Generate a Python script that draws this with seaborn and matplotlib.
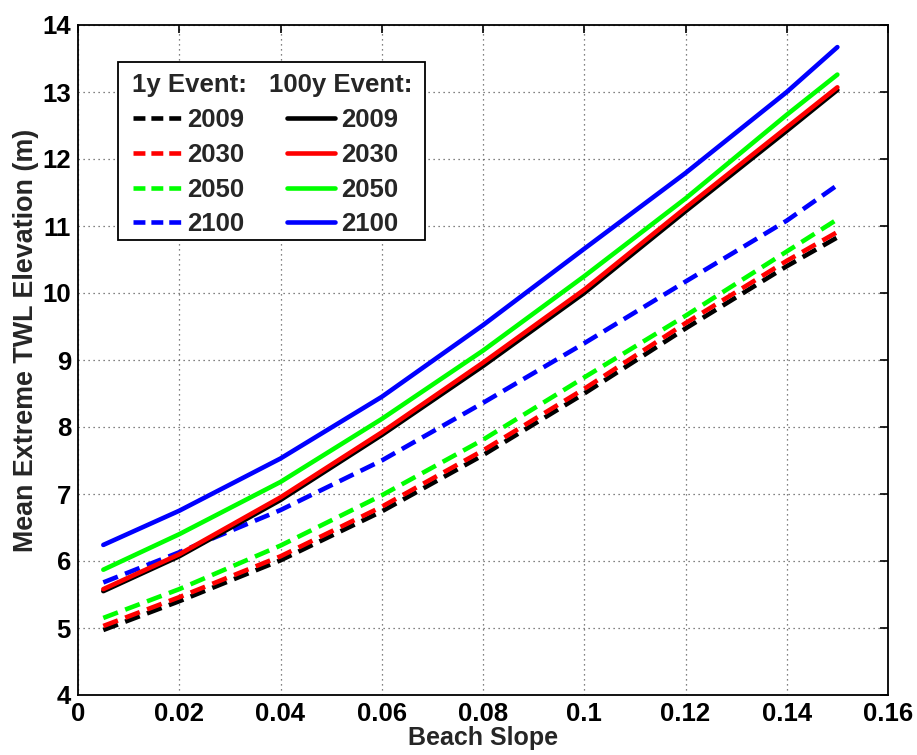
import numpy as np
import pandas as pd
import matplotlib
matplotlib.use("Agg")
import matplotlib.pyplot as plt
import seaborn as sns
from matplotlib.lines import Line2D
from matplotlib.patches import Rectangle

# ---- data ----
slope = [0.005, 0.02, 0.04, 0.06, 0.08, 0.10, 0.12, 0.14, 0.15]

y1_2009 = [4.97, 5.40, 6.01, 6.74, 7.58, 8.50, 9.47, 10.40, 10.83]
y1_2030 = [5.03, 5.46, 6.07, 6.81, 7.65, 8.57, 9.55, 10.48, 10.91]
y1_2050 = [5.15, 5.58, 6.23, 6.98, 7.81, 8.74, 9.66, 10.62, 11.10]
y1_2100 = [5.68, 6.13, 6.76, 7.50, 8.36, 9.25, 10.17, 11.08, 11.61]

y100_2009 = [5.55, 6.07, 6.91, 7.88, 8.91, 10.00, 11.22, 12.42, 13.03]
y100_2030 = [5.58, 6.10, 6.95, 7.92, 8.96, 10.05, 11.27, 12.47, 13.07]
y100_2050 = [5.87, 6.40, 7.18, 8.12, 9.14, 10.25, 11.41, 12.66, 13.26]
y100_2100 = [6.24, 6.75, 7.53, 8.45, 9.52, 10.66, 11.79, 13.00, 13.67]

years = ["2009", "2030", "2050", "2100"]
colors = ["#000000", "#ff0000", "#00ff00", "#0000ff"]
series_1y = [y1_2009, y1_2030, y1_2050, y1_2100]
series_100y = [y100_2009, y100_2030, y100_2050, y100_2100]

x_ticks = [0, 0.02, 0.04, 0.06, 0.08, 0.10, 0.12, 0.14, 0.16]
x_ticklabels = ["0", "0.02", "0.04", "0.06", "0.08", "0.1", "0.12", "0.14", "0.16"]
y_ticks = [4, 5, 6, 7, 8, 9, 10, 11, 12, 13, 14]

# ---- style ----
sns.set_theme(style="white")
plt.rcParams["font.family"] = ["Liberation Sans", "DejaVu Sans"]
plt.rcParams["font.weight"] = "bold"

FS = 18.5
LW = 3.3
dash = (0, (3.4, 1.7))
dash_leg = (0, (2.6, 1.3))

fig = plt.figure(figsize=(9.17, 7.55), dpi=100)
ax = fig.add_axes([78 / 917, 1 - 695 / 755, 810 / 917, 670 / 755])

frames = []
for yr, v in zip(years, series_1y):
    frames.append(pd.DataFrame({"slope": slope, "twl": v, "year": yr, "event": "1y"}))
for yr, v in zip(years, series_100y):
    frames.append(pd.DataFrame({"slope": slope, "twl": v, "year": yr, "event": "100y"}))
df = pd.concat(frames, ignore_index=True)

for yr, c in zip(years, colors):
    d = df[(df.year == yr) & (df.event == "1y")]
    sns.lineplot(data=d, x="slope", y="twl", color=c, lw=LW, ax=ax,
                 linestyle=dash, legend=False, zorder=3)
for yr, c in zip(years, colors):
    d = df[(df.year == yr) & (df.event == "100y")]
    sns.lineplot(data=d, x="slope", y="twl", color=c, lw=LW, ax=ax,
                 linestyle="-", legend=False, zorder=3)

ax.set_xlim(0, 0.16)
ax.set_ylim(4, 14)
ax.set_xticks(x_ticks)
ax.set_xticklabels(x_ticklabels)
ax.set_yticks(y_ticks)
ax.set_yticklabels([str(t) for t in y_ticks])
ax.tick_params(axis="both", direction="in", length=6, width=1.2, labelsize=FS,
               top=True, right=True, colors="black", pad=5)
for lab in ax.get_xticklabels() + ax.get_yticklabels():
    lab.set_fontweight("bold")

ax.grid(True, linestyle=(0, (1, 3)), color="0.35", lw=0.9)
for s in ax.spines.values():
    s.set_color("black")
    s.set_linewidth(1.3)
    s.set_visible(True)

ax.set_xlabel("Beach Slope", fontsize=18, fontweight="bold", labelpad=0)
ax.set_ylabel("Mean Extreme TWL Elevation (m)", fontsize=19.4, fontweight="bold")
ax.yaxis.set_label_coords((39 - 78) / 810, (695 - 340) / 670)

# ---- legend: two columns with titles, one frame ----
def fx(px):
    return (px - 78) / 810

def fy(py):
    return (695 - py) / 670

ax.add_patch(Rectangle((fx(118), fy(240)), fx(425) - fx(118), fy(62) - fy(240),
                       transform=ax.transAxes, facecolor="white",
                       edgecolor="black", lw=1.3, zorder=5))
ax.text(fx(132), fy(85), "1y Event:", transform=ax.transAxes, fontsize=FS,
        fontweight="bold", ha="left", va="center", zorder=7)
ax.text(fx(269), fy(85), "100y Event:", transform=ax.transAxes, fontsize=FS,
        fontweight="bold", ha="left", va="center", zorder=7)

h1 = [Line2D([], [], color=c, lw=LW, linestyle=dash_leg) for c in colors]
h2 = [Line2D([], [], color=c, lw=LW, linestyle="-") for c in colors]
common = dict(loc="upper left", frameon=False, fontsize=FS, borderpad=0,
              borderaxespad=0, handlelength=1.85, handletextpad=0.25,
              labelspacing=0.42)
leg1 = ax.legend(h1, years, bbox_to_anchor=(fx(133), fy(108)), **common)
ax.add_artist(leg1)
leg2 = ax.legend(h2, years, bbox_to_anchor=(fx(287), fy(108)), **common)
for lg in (leg1, leg2):
    for t in lg.get_texts():
        t.set_fontweight("bold")
    lg.set_zorder(6)

fig.savefig("out.png", dpi=100)
